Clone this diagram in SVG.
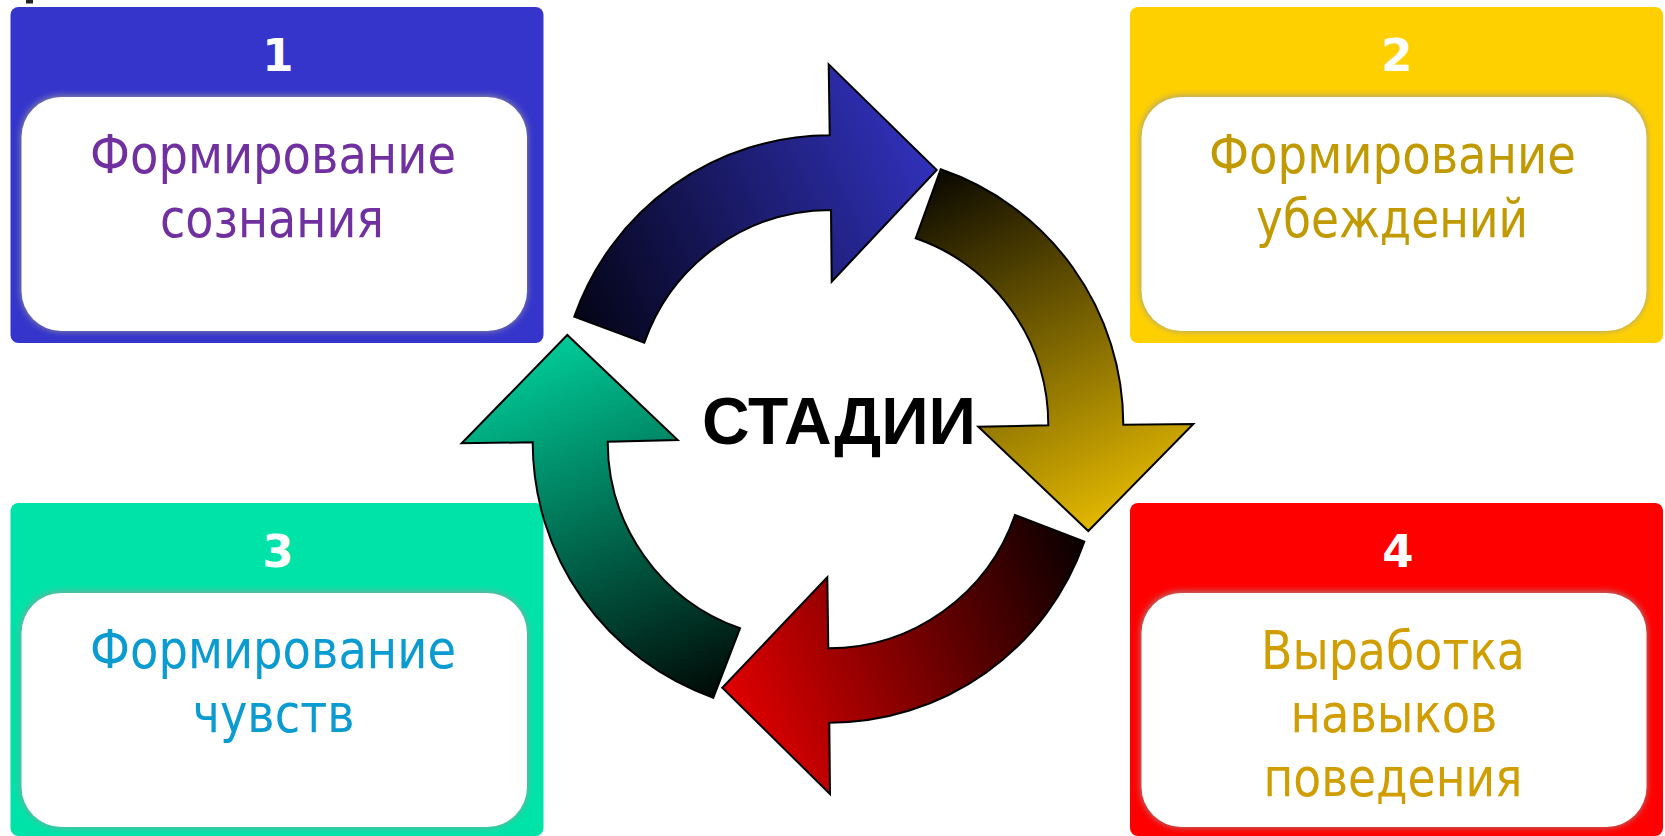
<svg xmlns="http://www.w3.org/2000/svg" width="1665" height="836" viewBox="0 0 1665 836">
  <defs>
    <filter id="soft" x="-10%" y="-10%" width="120%" height="120%">
      <feGaussianBlur stdDeviation="3.5"/>
    </filter>
    <linearGradient id="gBlue" gradientUnits="userSpaceOnUse" x1="590" y1="330" x2="930" y2="170">
      <stop offset="0" stop-color="#05051A"/>
      <stop offset="1" stop-color="#3030B8"/>
    </linearGradient>
    <linearGradient id="gYellow" gradientUnits="userSpaceOnUse" x1="920" y1="180" x2="1090" y2="530">
      <stop offset="0" stop-color="#0A0800"/>
      <stop offset="1" stop-color="#E2B800"/>
    </linearGradient>
    <linearGradient id="gRed" gradientUnits="userSpaceOnUse" x1="1080" y1="540" x2="725" y2="690">
      <stop offset="0" stop-color="#0A0000"/>
      <stop offset="1" stop-color="#E00000"/>
    </linearGradient>
    <linearGradient id="gGreen" gradientUnits="userSpaceOnUse" x1="715" y1="695" x2="567" y2="340">
      <stop offset="0" stop-color="#000A06"/>
      <stop offset="1" stop-color="#00C896"/>
    </linearGradient>
  </defs>
  <style>
    .outer { stroke: none; }
    .halo { fill: #9a9a9a; opacity: 0.9; filter: url(#soft); }
    .inner { fill: #ffffff; }
    .num { font-family: "DejaVu Sans", "Liberation Sans", sans-serif; font-weight: bold; font-size: 45px; fill: #ffffff; text-anchor: middle; }
    .lbl { font-family: "DejaVu Sans", "Liberation Sans", sans-serif; font-size: 53px; text-anchor: middle; }
    .arrow { stroke: #000000; stroke-width: 2; stroke-linejoin: miter; }
    .center { font-family: "Liberation Sans", Arial, sans-serif; font-weight: bold; font-size: 67px; fill: #000000; text-anchor: middle; }
  </style>
  <rect x="0" y="0" width="1665" height="836" fill="#ffffff"/>
  <rect x="26" y="0" width="7" height="3.5" fill="#222222"/>

  <g id="node-1">
    <rect class="outer" x="10.5" y="7" width="533" height="336" rx="8" fill="#3535CC"/>
    <rect class="halo" x="21" y="96" width="506" height="235" rx="40"/>
    <rect class="inner" x="21.5" y="97" width="505.5" height="234" rx="40"/>
    <text class="num" x="278" y="71">1</text>
    <text class="lbl" fill="#7030A0" x="273" y="173" textLength="366" lengthAdjust="spacingAndGlyphs">Формирование</text>
    <text class="lbl" fill="#7030A0" x="272" y="237" textLength="224" lengthAdjust="spacingAndGlyphs">сознания</text>
  </g>

  <g id="node-2">
    <rect class="outer" x="1130" y="7" width="533" height="336" rx="8" fill="#FFD000"/>
    <rect class="halo" x="1141" y="96" width="505.5" height="235" rx="40"/>
    <rect class="inner" x="1141.5" y="97" width="505" height="234" rx="40"/>
    <text class="num" x="1397" y="71">2</text>
    <text class="lbl" fill="#C09A00" x="1392.5" y="173" textLength="367" lengthAdjust="spacingAndGlyphs">Формирование</text>
    <text class="lbl" fill="#C09A00" x="1392" y="237" textLength="272" lengthAdjust="spacingAndGlyphs">убеждений</text>
  </g>

  <g id="node-3">
    <rect class="outer" x="10.5" y="503" width="533" height="333" rx="8" fill="#00E3A8"/>
    <rect class="halo" x="21" y="592" width="506" height="235" rx="40"/>
    <rect class="inner" x="21.5" y="593" width="505.5" height="234" rx="40"/>
    <text class="num" x="278" y="567">3</text>
    <text class="lbl" fill="#0A9BD0" x="273" y="668" textLength="366" lengthAdjust="spacingAndGlyphs">Формирование</text>
    <text class="lbl" fill="#0A9BD0" x="273.5" y="732" textLength="162" lengthAdjust="spacingAndGlyphs">чувств</text>
  </g>

  <g id="node-4">
    <rect class="outer" x="1130" y="503" width="533" height="333" rx="8" fill="#FF0000"/>
    <rect class="halo" x="1141" y="592" width="505.5" height="235" rx="40"/>
    <rect class="inner" x="1141.5" y="593" width="505" height="234" rx="40"/>
    <text class="num" x="1398" y="567">4</text>
    <text class="lbl" fill="#D09E00" x="1393" y="669" textLength="264" lengthAdjust="spacingAndGlyphs">Выработка</text>
    <text class="lbl" fill="#D09E00" x="1394" y="732" textLength="207" lengthAdjust="spacingAndGlyphs">навыков</text>
    <text class="lbl" fill="#D09E00" x="1393" y="796" textLength="259" lengthAdjust="spacingAndGlyphs">поведения</text>
  </g>

  <g id="connectors">
    <path id="arrow-blue" class="arrow" fill="url(#gBlue)" d="M 574.3 316.7 A 271 271 0 0 1 829.7 135.3 L 828.7 64.3 L 936.7 170 L 831.7 281.7 L 831 210 A 198 198 0 0 0 644.3 342.7 Z"/>
    <path id="arrow-yellow" class="arrow" fill="url(#gYellow)" d="M 940.7 169.3 A 270 270 0 0 1 1123.3 424.7 L 1193.3 424 L 1088.3 531 L 978.3 426.7 L 1048.3 425.3 A 198 198 0 0 0 915.7 238.3 Z"/>
    <path id="arrow-red" class="arrow" fill="url(#gRed)" d="M 1084.3 541.7 A 270 270 0 0 1 829.3 722.7 L 830 794 L 722.3 687.7 L 827.3 577.3 L 828.3 648.3 A 198 198 0 0 0 1015 515 Z"/>
    <path id="arrow-green" class="arrow" fill="url(#gGreen)" d="M 713.3 697.7 A 271 271 0 0 1 532.7 442.3 L 461.7 443.3 L 567.3 335 L 677.7 440 L 607.7 441.7 A 198 198 0 0 0 740 628.3 Z"/>
  </g>

  <g id="center-label">
    <text class="center" x="839" y="443.5" textLength="274" lengthAdjust="spacingAndGlyphs">СТАДИИ</text>
  </g>
</svg>
